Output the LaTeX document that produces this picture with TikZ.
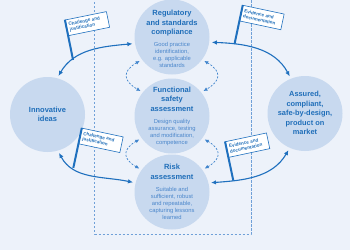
\documentclass[tikz,border=0pt]{standalone}
\usepackage{fontspec}
\setmainfont{Liberation Sans}
\usetikzlibrary{arrows.meta,calc}
\definecolor{bg}{HTML}{EDF2FA}
\definecolor{circ}{HTML}{C8D9EF}
\definecolor{ttl}{HTML}{1F6EB9}
\definecolor{sml}{HTML}{4A86CB}
\definecolor{arr}{HTML}{1F70BE}
\definecolor{dsh}{HTML}{6FA0D8}
\definecolor{lp}{HTML}{3F84CC}
\begin{document}
\begin{tikzpicture}[x=1pt,y=1pt,
  bubble/.style={circle, fill=circ, inner sep=0pt, minimum size=75pt},
  ttlnode/.style={align=center, text=ttl, inner sep=0pt, font=\bfseries\fontsize{7.5}{9.5}\selectfont},
  descnode/.style={align=center, text=sml, inner sep=0pt, font=\fontsize{5.8}{6.9}\selectfont},
  flowarrow/.style={arr, line width=1.1pt, {Latex[length=5pt,width=4.5pt]}-{Latex[length=5pt,width=4.5pt]}, shorten <=2.5pt, shorten >=2.5pt},
  dloop/.style={lp, line width=0.7pt, dash pattern=on 2pt off 1.6pt, {Latex[length=4pt,width=3.8pt]}-{Latex[length=4pt,width=3.8pt]}, shorten <=2.5pt, shorten >=2.5pt},
  flagbox/.style={draw=arr, line width=0.6pt, fill=white, minimum height=16pt, inner xsep=2.5pt, inner ysep=1.5pt, align=left, text width=37pt, anchor=north west, font=\bfseries\fontsize{4.6}{5.4}\selectfont, text=ttl},
  pole/.style={arr, line width=2pt},
  rectframe/.style={dsh, line width=0.6pt, dash pattern=on 2.2pt off 1.8pt}
]
\fill[bg] (0,0) rectangle (350,250);
\useasboundingbox (0,0) rectangle (350,250);
\draw[rectframe] (94.5,252) -- (94.5,16) -- (251,16) -- (251,252);

% circles
\node[bubble] (reg) at (172,213) {};
\node[bubble] (func) at (172,134) {};
\node[bubble] (risk) at (172,58) {};
\node[bubble] (innov) at (47.5,135.5) {};
\node[bubble] (assured) at (305,136.5) {};

% texts
\node[ttlnode] (regT) at ($(reg)+(0,13.7)$) {Regulatory\\and standards\\compliance};
\node[descnode] (regD) at ($(reg)+(0,-17.7)$) {Good practice\\identification,\\e.g. applicable\\standards};
\node[ttlnode] (funcT) at ($(func)+(0,17)$) {Functional\\safety\\assessment};
\node[descnode] (funcD) at ($(func)+(0,-16.5)$) {Design quality\\assurance, testing\\and modification,\\competence};
\node[ttlnode] (riskT) at ($(risk)+(0,20)$) {Risk\\assessment};
\node[descnode] (riskD) at ($(risk)+(0,-11.6)$) {Suitable and\\sufficient, robust\\and repeatable,\\capturing lessons\\learned};
\node[ttlnode] (innovT) at (innov) {Innovative\\ideas};
\node[ttlnode, font=\bfseries\fontsize{7.4}{9.5}\selectfont] (assuredT) at ($(assured)+(0,0.5)$) {Assured,\\compliant,\\safe-by-design,\\product on\\market};

% dashed loops
\draw[dloop] (reg.217) to[out=210,in=150,looseness=1.8] (func.141);
\draw[dloop] (reg.-37) to[out=-30,in=30,looseness=1.8] (func.39);
\draw[dloop] (func.216) to[out=210,in=150,looseness=1.8] (risk.144);
\draw[dloop] (func.-36) to[out=-30,in=30,looseness=1.8] (risk.36);

% main arrows
\draw[flowarrow] (innov.75) to[out=60,in=185] coordinate[pos=0.27] (pA) (reg.190);
\draw[flowarrow] (reg.-8) to[out=-2,in=118] coordinate[pos=0.25] (pB) (assured.112);
\draw[flowarrow] (innov.-74) to[out=-62,in=168] coordinate[pos=0.27] (pC) (risk.166);
\draw[flowarrow] (risk.14) to[out=4,in=240] coordinate[pos=0.25] (pD) (assured.246);

% flags
\node[flagbox, rotate=11.5] (fA) at ($(pA)+(101.5:41)$) {Challenge and\\justification};
\draw[pole] (pA) -- (fA.north west);
\node[flagbox, rotate=-12] (fB) at ($(pB)+(78:40)$) {Evidence and\\documentation};
\draw[pole] (pB) -- (fB.north west);
\node[flagbox, rotate=-12] (fC) at ($(pC)+(78:41)$) {Challenge and\\justification};
\draw[pole] (pC) -- (fC.north west);
\node[flagbox, rotate=12] (fD) at ($(pD)+(102:40)$) {Evidence and\\documentation};
\draw[pole] (pD) -- (fD.north west);
\end{tikzpicture}
\end{document}
